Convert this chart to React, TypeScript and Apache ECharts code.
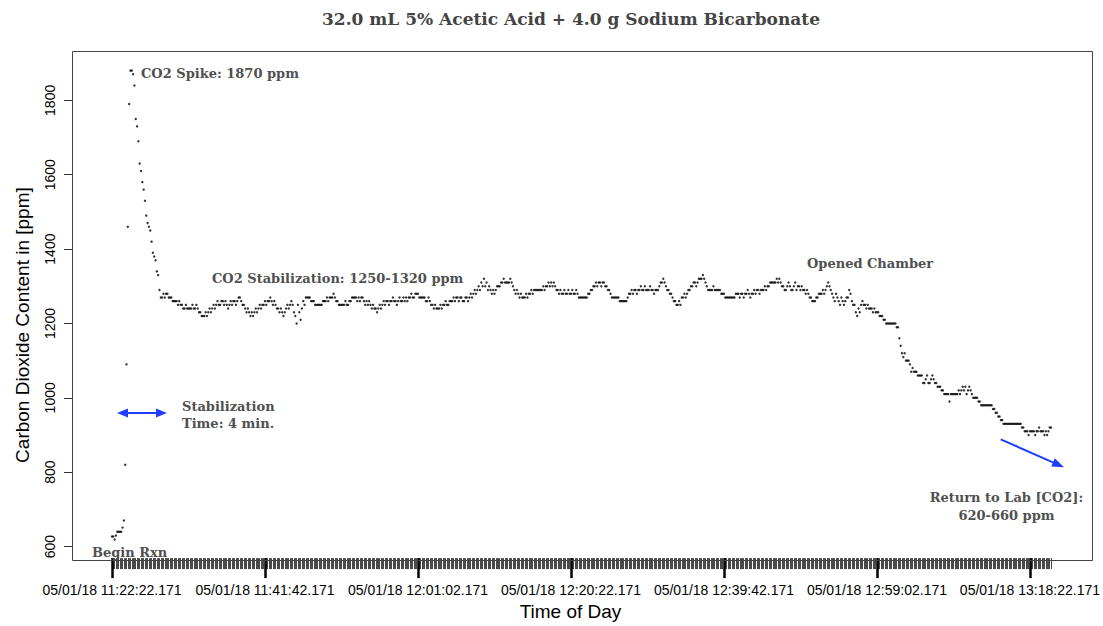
import React, { useEffect, useRef } from "react";
import * as echarts from "echarts";

// Sampling: one reading every 10 s starting 05/01/18 11:22:22.171
const START_CLOCK = { h: 11, m: 22, s: 22 };
const SAMPLE_STEP_S = 10;
const LABEL_EVERY = 116; // 19 min 20 s between labelled ticks

// Reaction: baseline, spike and fall (ppm)
const reactionPpm = [
  627, 627, 619, 630, 640, 640, 640, 640, 651, 670,
  820, 1090, 1460, 1790, 1880, 1880, 1870, 1840, 1750, 1730,
  1690, 1630, 1610, 1580, 1560, 1530, 1490, 1470, 1460, 1450,
  1420, 1390, 1380, 1370, 1340, 1330, 1290,
];

// Stabilized chamber (ppm)
const plateauPpm = [
  1270, 1270, 1280,
  1270, 1280, 1280, 1270, 1270, 1270, 1260, 1260, 1260, 1260,
  1250, 1260, 1250, 1250, 1240, 1240, 1250, 1240, 1240, 1240,
  1240, 1250, 1240, 1240, 1250, 1240, 1230, 1230, 1220, 1220,
  1220, 1230, 1220, 1230, 1240, 1230, 1240, 1250, 1240, 1250,
  1260, 1250, 1250, 1260, 1260, 1250, 1260, 1250, 1240, 1250,
  1260, 1250, 1260, 1260, 1250, 1260, 1270, 1270, 1260, 1250,
  1250, 1240, 1230, 1240, 1230, 1220, 1230, 1220, 1230, 1240,
  1230, 1240, 1250, 1240, 1250, 1250, 1260, 1250, 1260, 1260,
  1270, 1260, 1250, 1260, 1250, 1240, 1240, 1230, 1240, 1230,
  1220, 1230, 1240, 1250, 1240, 1250, 1260, 1250, 1230, 1220,
  1200, 1250, 1230, 1210, 1240, 1260, 1250, 1270, 1270, 1270,
  1270, 1260, 1260, 1260, 1250, 1250, 1250, 1250, 1250, 1250,
  1260, 1260, 1260, 1270, 1260, 1270, 1270, 1270, 1280, 1270,
  1260, 1260, 1250, 1250, 1250, 1250, 1250, 1260, 1250, 1250,
  1260, 1260, 1270, 1270, 1270, 1270, 1260, 1270, 1260, 1270,
  1270, 1260, 1250, 1260, 1250, 1260, 1250, 1240, 1250, 1240,
  1240, 1230, 1240, 1250, 1240, 1250, 1260, 1250, 1260, 1260,
  1250, 1260, 1260, 1270, 1260, 1260, 1250, 1260, 1270, 1260,
  1260, 1270, 1260, 1270, 1260, 1270, 1270, 1280, 1270, 1270,
  1280, 1280, 1280, 1270, 1270, 1270, 1270, 1270, 1260, 1260,
  1270, 1260, 1250, 1250, 1240, 1250, 1240, 1240, 1240, 1250,
  1240, 1250, 1250, 1260, 1250, 1250, 1260, 1260, 1260, 1270,
  1260, 1270, 1270, 1260, 1270, 1270, 1260, 1260, 1270, 1270,
  1260, 1270, 1280, 1270, 1280, 1290, 1280, 1290, 1300, 1290,
  1310, 1300, 1320, 1300, 1310, 1290, 1300, 1290, 1280, 1290,
  1280, 1290, 1300, 1300, 1300, 1310, 1310, 1320, 1310, 1310,
  1310, 1310, 1320, 1310, 1300, 1290, 1280, 1290, 1280, 1270,
  1280, 1270, 1270, 1270, 1280, 1270, 1280, 1280, 1290, 1280,
  1290, 1290, 1290, 1290, 1290, 1290, 1290, 1300, 1290, 1300,
  1300, 1310, 1300, 1310, 1300, 1310, 1300, 1290, 1290, 1280,
  1290, 1280, 1280, 1290, 1280, 1280, 1290, 1280, 1280, 1290,
  1280, 1280, 1290, 1280, 1270, 1270, 1270, 1270, 1270, 1270,
  1270, 1280, 1280, 1290, 1290, 1300, 1300, 1310, 1300, 1310,
  1310, 1300, 1310, 1310, 1300, 1300, 1290, 1290, 1280, 1270,
  1270, 1270, 1270, 1270, 1270, 1260, 1260, 1260, 1260, 1260,
  1260, 1270, 1280, 1280, 1290, 1280, 1290, 1290, 1280, 1290,
  1290, 1300, 1290, 1290, 1300, 1290, 1290, 1290, 1300, 1290,
  1290, 1280, 1290, 1290, 1290, 1300, 1310, 1310, 1320, 1310,
  1300, 1290, 1290, 1280, 1280, 1270, 1260, 1260, 1250, 1250,
  1260, 1250, 1270, 1270, 1280, 1270, 1280, 1290, 1290, 1300,
  1300, 1310, 1310, 1300, 1310, 1320, 1320, 1320, 1330, 1320,
  1310, 1300, 1290, 1290, 1290, 1290, 1300, 1290, 1290, 1290,
  1290, 1290, 1280, 1280, 1280, 1270, 1270, 1270, 1270, 1270,
  1270, 1270, 1270, 1280, 1280, 1280, 1270, 1280, 1280, 1270,
  1280, 1280, 1290, 1280, 1270, 1280, 1280, 1290, 1280, 1290,
  1290, 1280, 1290, 1290, 1290, 1300, 1290, 1300, 1300, 1310,
  1310, 1310, 1310, 1310, 1320, 1310, 1320, 1310, 1300, 1300,
  1290, 1290, 1300, 1310, 1300, 1290, 1290, 1300, 1310, 1290,
  1300, 1300, 1290, 1300, 1290, 1290, 1280, 1290, 1280, 1270,
  1270, 1260, 1260, 1260, 1270, 1270, 1280, 1280, 1280, 1290,
  1280, 1290, 1300, 1310, 1300, 1290, 1280, 1270, 1260, 1280,
  1270, 1260, 1250, 1270, 1260, 1250, 1260, 1270, 1270, 1290,
  1280, 1260, 1250, 1250, 1230, 1220, 1240, 1230, 1250, 1260,
  1250, 1250, 1240, 1250, 1240, 1240, 1240, 1230, 1240, 1230,
  1230, 1230, 1220, 1220,
];

// After the chamber was opened (ppm)
const openedPpm = [
  1220, 1210, 1210, 1200, 1200, 1200,
  1200, 1200, 1200, 1200, 1200, 1190, 1190, 1160, 1140, 1120,
  1110, 1120, 1100, 1100, 1100, 1090, 1070, 1080, 1070, 1070,
  1070, 1060, 1060, 1060, 1060, 1040, 1040, 1050, 1060, 1040,
  1040, 1050, 1060, 1050, 1040, 1040, 1030, 1030, 1030, 1020,
  1020, 1010, 1010, 1010, 1010, 990, 1010, 1010, 1010, 1010,
  1010, 1010, 1020, 1010, 1020, 1030, 1020, 1030, 1010, 1020,
  1030, 1020, 1010, 1000, 1000, 1000, 1000, 990, 990, 980,
  980, 980, 980, 980, 980, 980, 980, 980, 970, 970,
  960, 960, 950, 950, 940, 940, 930, 930, 930, 930,
  930, 930, 930, 930, 930, 930, 930, 930, 930, 930,
  920, 920, 910, 910, 910, 900, 910, 910, 910, 910,
  900, 910, 910, 920, 910, 910, 910, 900, 910, 900,
  910, 920, 920,
];

const ppm = [...reactionPpm, ...plateauPpm, ...openedPpm];

const yTickValues = [600, 800, 1000, 1200, 1400, 1600, 1800];

const pad = (n: number) => String(n).padStart(2, "0");
const timeCategories = ppm.map((_, i) => {
  const t = START_CLOCK.h * 3600 + START_CLOCK.m * 60 + START_CLOCK.s + i * SAMPLE_STEP_S;
  return `05/01/18 ${pad(Math.floor(t / 3600))}:${pad(Math.floor((t % 3600) / 60))}:${pad(t % 60)}.171`;
});

const isMajor = (i: number) => i % LABEL_EVERY === 0;

const SANS = "Liberation Sans, Arial, sans-serif";
const SLAB = "DejaVu Serif, serif";
const NOTE = "#505050";
const BLUE = "#1f3fff";

function note(text: string, x: number, y: number, align: string = "left") {
  return {
    type: "text",
    style: {
      text,
      x,
      y,
      fill: NOTE,
      font: `bold 13px ${SLAB}`,
      textAlign: align,
      textVerticalAlign: "middle",
    },
    z: 10,
  };
}

const option = {
  animation: false,
  backgroundColor: "#ffffff",
  title: {
    text: "32.0 mL 5% Acetic Acid + 4.0 g Sodium Bicarbonate",
    left: 566,
    top: 5,
    textAlign: "center",
    textStyle: { fontFamily: SLAB, fontWeight: "bold", fontSize: 17, color: "#444" },
  },
  grid: { left: 112, top: 52, width: 941, height: 509 },
  xAxis: [
    {
      type: "category",
      data: timeCategories,
      boundaryGap: false,
      position: "bottom",
      axisLine: { show: false },
      axisTick: { show: true, interval: 0, length: 11, lineStyle: { color: "#4a4a4a", width: 1 } },
      axisLabel: { show: false },
      splitLine: { show: false },
    },
    {
      type: "category",
      data: timeCategories,
      boundaryGap: false,
      position: "bottom",
      axisLine: { show: false },
      axisTick: { show: true, interval: (i: number) => isMajor(i), length: 20, lineStyle: { color: "#000", width: 2.5 } },
      axisLabel: {
        show: true,
        interval: (i: number) => isMajor(i),
        fontSize: 14,
        fontFamily: SANS,
        color: "#000",
        margin: 25,
      },
      splitLine: { show: false },
      name: "Time of Day",
      nameLocation: "middle",
      nameGap: 42,
      nameTextStyle: { fontSize: 19, fontFamily: SANS, color: "#000", padding: [0, 22, 0, 0] },
    },
  ],
  yAxis: {
    type: "value",
    min: 569,
    max: 1930,
    position: "left",
    offset: 39,
    axisLine: { show: false },
    axisTick: { show: true, length: 9, customValues: yTickValues, lineStyle: { color: "#333", width: 1 } },
    axisLabel: {
      show: true,
      customValues: yTickValues,
      formatter: (v: number) => String(v),
      rotate: 90,
      fontSize: 14,
      fontFamily: SANS,
      color: "#000",
      margin: 16,
    },
    splitLine: { show: false },
    name: "Carbon Dioxide Content in [ppm]",
    nameLocation: "middle",
    nameGap: 41,
    nameTextStyle: { fontSize: 19, fontFamily: SANS, color: "#000", padding: [0, 40, 0, 0] },
  },
  graphic: [
    {
      type: "rect",
      shape: { x: 72.5, y: 51.5, width: 1020, height: 509 },
      style: { fill: "none", stroke: "#444", lineWidth: 1 },
      z: 5,
    },
    note("CO2 Spike: 1870 ppm", 141, 73),
    note("CO2 Stabilization: 1250-1320 ppm", 212, 278),
    note("Opened Chamber", 807, 263.5),
    note("Stabilization", 182, 406),
    note("Time: 4 min.", 182, 423.5),
    note("Begin Rxn", 92, 552),
    note("Return to Lab [CO2]:", 1006.5, 497.5, "center"),
    note("620-660 ppm", 1006.5, 515, "center"),
    {
      type: "line",
      shape: { x1: 125, y1: 413, x2: 159, y2: 413 },
      style: { stroke: BLUE, lineWidth: 2 },
      z: 10,
    },
    {
      type: "polygon",
      shape: { points: [[117, 413], [128, 408.5], [128, 417.5]] },
      style: { fill: BLUE },
      z: 10,
    },
    {
      type: "polygon",
      shape: { points: [[167, 413], [156, 408.5], [156, 417.5]] },
      style: { fill: BLUE },
      z: 10,
    },
    {
      type: "line",
      shape: { x1: 1000.7, y1: 439.3, x2: 1053.5, y2: 462.6 },
      style: { stroke: BLUE, lineWidth: 2 },
      z: 10,
    },
    {
      type: "polygon",
      shape: { points: [[1064, 467.3], [1051.2, 466.5], [1054.8, 458.3]] },
      style: { fill: BLUE },
      z: 10,
    },
  ],
  series: [
    {
      type: "scatter",
      xAxisIndex: 0,
      yAxisIndex: 0,
      data: ppm,
      symbol: "circle",
      symbolSize: 2.4,
      itemStyle: { color: "#000" },
      silent: true,
    },
  ],
};

export default function App() {
  const ref = useRef<HTMLDivElement>(null);
  useEffect(() => {
    if (!ref.current) return;
    const chart = echarts.init(ref.current, null, { renderer: "svg" });
    chart.setOption(option as any);
    return () => chart.dispose();
  }, []);
  return (
    <div
      ref={ref}
      style={{ position: "fixed", left: 0, top: 0, width: 1103, height: 626, background: "#fff" }}
    />
  );
}
